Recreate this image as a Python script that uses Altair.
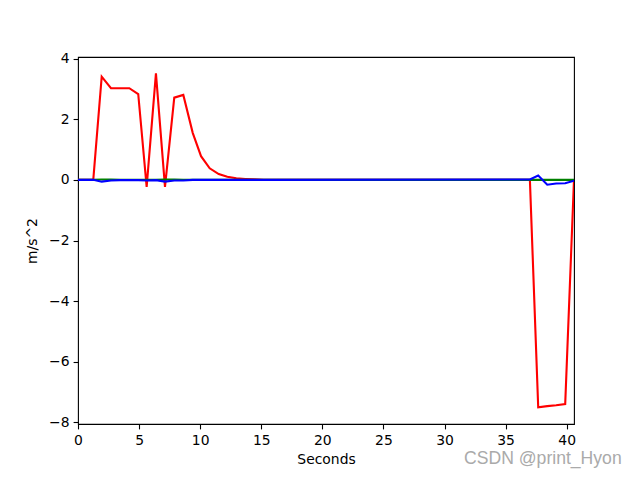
import altair as alt
import pandas as pd

# Time stamps (seconds) and acceleration values (m/s^2)
times = [0.0, 1.25, 1.94, 2.70, 3.45, 4.20, 4.93, 5.62, 6.38, 7.12, 7.88, 8.62,
         9.39, 10.07, 10.78, 11.52, 12.22, 12.96, 13.70, 14.44, 15.20, 36.99,
         37.67, 38.41, 39.14, 39.88, 40.60]
red_vals = [0.0, 0.0, 3.40, 3.02, 3.02, 3.02, 2.83, -0.23, 3.51, -0.23, 2.71, 2.80,
            1.55, 0.78, 0.38, 0.19, 0.10, 0.05, 0.03, 0.015, 0.0, 0.0,
            -7.50, -7.46, -7.43, -7.39, 0.0]
green_vals = [0.0, 0.0, 0.01, 0.01, 0.0, 0.0, 0.0, 0.0, 0.0, 0.01, 0.01, 0.0,
              0.0, 0.0, 0.0, 0.0, 0.0, 0.0, 0.0, 0.0, 0.0, 0.0,
              0.0, 0.0, 0.0, 0.0, 0.0]
blue_vals = [0.0, 0.0, -0.06, -0.02, -0.01, -0.01, -0.01, -0.02, -0.01, -0.06, -0.02, -0.02,
             0.0, 0.0, 0.0, 0.0, 0.0, 0.0, 0.0, 0.0, 0.0, 0.01,
             0.14, -0.16, -0.12, -0.11, -0.03]

x_ticks = [0, 5, 10, 15, 20, 25, 30, 35, 40]
y_ticks = [-8, -6, -4, -2, 0, 2, 4]
x_domain = [0, 40.6]
y_domain = [-8.05, 4.05]

FONT = "DejaVu Sans"

df_r = pd.DataFrame({"t": times, "v": red_vals})
df_g = pd.DataFrame({"t": times, "v": green_vals})
df_b = pd.DataFrame({"t": times, "v": blue_vals})

x_enc = alt.X("t:Q", scale=alt.Scale(domain=x_domain, nice=False, zero=False),
              axis=alt.Axis(values=x_ticks, title="Seconds", format="d"))
y_enc = alt.Y("v:Q", scale=alt.Scale(domain=y_domain, nice=False, zero=False),
              axis=alt.Axis(values=y_ticks, title="m/s^2", format="d"))

def line(df, color):
    return alt.Chart(df).mark_line(color=color, strokeWidth=2.1, clip=True).encode(
        x=x_enc, y=y_enc)

watermark = alt.Chart(pd.DataFrame({"txt": ["CSDN @print_Hyon"]})).mark_text(
    align="left", baseline="middle", font="Liberation Sans", fontSize=17.6,
    color="#aaaaaa").encode(
    text="txt:N", x=alt.value(386), y=alt.value(402))

chart = alt.layer(
    line(df_r, "#ff0000"),
    line(df_g, "#008000"),
    line(df_b, "#0000ff"),
    watermark,
).properties(
    width=496, height=367,
    autosize=alt.AutoSizeParams(type="none"),
    padding={"left": 70, "top": 49, "right": 55, "bottom": 45},
).configure_view(
    stroke="black", strokeWidth=1.1
).configure_axis(
    grid=False, domain=False, ticks=True, tickSize=4.9, tickWidth=1.1,
    tickColor="black", labelColor="black", labelFont=FONT, labelFontSize=13.9,
    labelPadding=4, labelFlush=False, labelOverlap=False,
    titleFont=FONT, titleFontSize=13.9, titleFontWeight="normal",
    titleColor="black",
).configure_axisX(
    labelPadding=5, titlePadding=5,
).configure_axisY(
    titlePadding=9,
)

chart.save("out.html", embed_options={"renderer": "svg", "actions": False})
